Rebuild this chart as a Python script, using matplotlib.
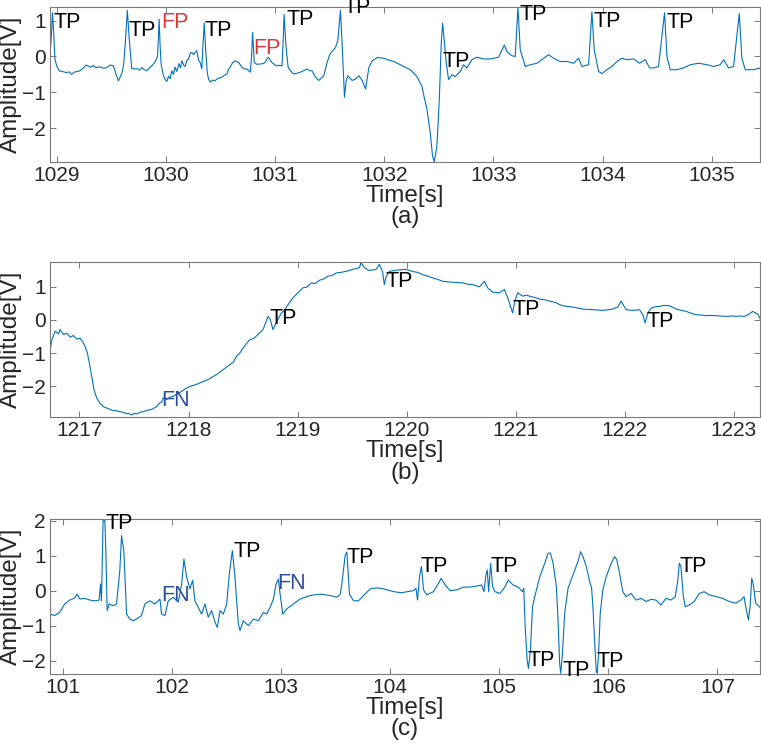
"""
ECG detection examples: three signal segments with TP / FP / FN marks
"""
import matplotlib
matplotlib.use('Agg')
import matplotlib.pyplot as plt

plt.rcParams['font.family'] = ['Liberation Sans', 'DejaVu Sans']

LINE_COLOR = '#0072BD'
TEXT_COLOR = '#262626'
SPINE_COLOR = '#7a7a7a'
MARK_COLORS = {'TP': 'black', 'FP': '#E8333A', 'FN': '#2D4F9E'}

# ---- panel (a) ----
time_a = [1028.939, 1028.950, 1028.963, 1028.975, 1028.985, 1029.000, 1029.024, 1029.050,
          1029.092, 1029.115, 1029.138, 1029.160, 1029.190, 1029.214, 1029.245, 1029.270,
          1029.291, 1029.315, 1029.336, 1029.360, 1029.398, 1029.430, 1029.459, 1029.490,
          1029.520, 1029.545, 1029.566, 1029.585, 1029.600, 1029.615, 1029.630, 1029.648,
          1029.665, 1029.688, 1029.710, 1029.734, 1029.760, 1029.780, 1029.800, 1029.826,
          1029.850, 1029.872, 1029.890, 1029.902, 1029.924, 1029.932, 1029.939, 1029.948,
          1029.957, 1029.975, 1029.990, 1030.009, 1030.025, 1030.040, 1030.055, 1030.070,
          1030.085, 1030.101, 1030.120, 1030.135, 1030.147, 1030.165, 1030.177, 1030.195,
          1030.208, 1030.225, 1030.239, 1030.255, 1030.269, 1030.284, 1030.300, 1030.315,
          1030.330, 1030.340, 1030.352, 1030.365, 1030.380, 1030.391, 1030.407, 1030.430,
          1030.450, 1030.468, 1030.490, 1030.514, 1030.540, 1030.560, 1030.575, 1030.590,
          1030.610, 1030.636, 1030.667, 1030.697, 1030.720, 1030.743, 1030.774, 1030.785,
          1030.795, 1030.803, 1030.810, 1030.835, 1030.865, 1030.890, 1030.911, 1030.925,
          1030.942, 1030.955, 1030.972, 1031.000, 1031.018, 1031.040, 1031.064, 1031.074,
          1031.083, 1031.100, 1031.120, 1031.141, 1031.171, 1031.200, 1031.232, 1031.260,
          1031.294, 1031.320, 1031.339, 1031.370, 1031.401, 1031.425, 1031.446, 1031.477,
          1031.500, 1031.523, 1031.554, 1031.575, 1031.599, 1031.615, 1031.636, 1031.650,
          1031.667, 1031.690, 1031.706, 1031.737, 1031.768, 1031.798, 1031.829, 1031.845,
          1031.859, 1031.890, 1031.936, 1031.997, 1032.040, 1032.085, 1032.146, 1032.238,
          1032.299, 1032.345, 1032.360, 1032.391, 1032.421, 1032.442, 1032.458, 1032.482,
          1032.504, 1032.522, 1032.534, 1032.549, 1032.568, 1032.589, 1032.619, 1032.650,
          1032.696, 1032.726, 1032.757, 1032.803, 1032.848, 1032.909, 1032.970, 1033.047,
          1033.099, 1033.123, 1033.169, 1033.199, 1033.224, 1033.245, 1033.291, 1033.337,
          1033.398, 1033.459, 1033.504, 1033.550, 1033.611, 1033.672, 1033.733, 1033.779,
          1033.810, 1033.871, 1033.901, 1033.922, 1033.962, 1033.993, 1034.038, 1034.084,
          1034.130, 1034.176, 1034.222, 1034.283, 1034.337, 1034.389, 1034.429, 1034.466,
          1034.511, 1034.566, 1034.588, 1034.618, 1034.679, 1034.740, 1034.801, 1034.878,
          1034.954, 1035.015, 1035.076, 1035.107, 1035.152, 1035.198, 1035.250, 1035.274,
          1035.305, 1035.381, 1035.442]
amp_a = [0.00, 0.45, 1.22, 0.60, -0.07, -0.25, -0.40, -0.42,
         -0.45, -0.43, -0.50, -0.44, -0.42, -0.40, -0.32, -0.24,
         -0.27, -0.30, -0.25, -0.31, -0.29, -0.33, -0.31, -0.24,
         -0.26, -0.50, -0.68, -0.56, -0.45, -0.20, 0.40, 1.29,
         0.50, -0.33, -0.35, -0.34, -0.38, -0.31, -0.36, -0.40,
         -0.32, -0.26, -0.20, -0.15, 0.00, 0.50, 1.04, 0.30,
         -0.20, -0.50, -0.62, -0.70, -0.55, -0.62, -0.40, -0.50,
         -0.30, -0.42, -0.20, -0.32, -0.12, -0.25, -0.28, -0.10,
         -0.08, 0.10, 0.11, 0.05, 0.12, 0.16, -0.10, -0.17,
         -0.35, 0.30, 0.94, 0.20, -0.45, -0.63, -0.72, -0.66,
         -0.68, -0.63, -0.60, -0.58, -0.52, -0.49, -0.35, -0.30,
         -0.18, -0.12, -0.17, -0.30, -0.35, -0.35, -0.44, 0.00,
         0.67, 0.20, -0.17, -0.22, -0.21, -0.20, -0.16, -0.07,
         -0.03, -0.10, -0.17, -0.24, -0.26, -0.25, -0.26, 0.40,
         1.18, 0.30, -0.30, -0.40, -0.49, -0.47, -0.44, -0.40,
         -0.35, -0.40, -0.40, -0.58, -0.67, -0.60, -0.54, -0.17,
         0.05, 0.15, 0.25, 0.45, 1.29, 0.30, -1.14, -0.70,
         -0.54, -0.62, -0.67, -0.63, -0.54, -0.67, -0.91, -0.60,
         -0.31, -0.12, -0.03, -0.05, -0.10, -0.14, -0.23, -0.37,
         -0.56, -0.83, -1.06, -1.48, -2.13, -2.78, -2.94, -2.50,
         -1.20, 0.37, 0.93, 0.46, -0.19, -0.65, -0.51, -0.56,
         -0.42, -0.23, -0.32, -0.09, -0.02, -0.07, -0.07, -0.02,
         0.32, 0.14, 0.02, 0.00, 1.38, 0.19, -0.28, -0.23,
         -0.19, -0.05, 0.05, -0.05, -0.14, -0.14, -0.19, -0.05,
         -0.28, -0.23, 1.25, 0.19, -0.42, -0.48, -0.37, -0.28,
         -0.14, -0.05, -0.09, -0.07, -0.19, -0.09, -0.32, -0.32,
         -0.28, 1.22, 0.00, -0.37, -0.37, -0.32, -0.23, -0.19,
         -0.23, -0.28, -0.23, -0.09, -0.32, -0.28, 1.20, -0.05,
         -0.37, -0.37, -0.32]
labels_a = ['TP', 'TP', 'FP', 'TP', 'FP', 'TP', 'TP', 'TP', 'TP', 'TP', 'TP']
label_t_a = [1028.969, 1029.657, 1029.954, 1030.352, 1030.798, 1031.104, 1031.624,
             1032.537, 1033.239, 1033.916, 1034.588]
label_v_a = [0.94, 0.74, 0.94, 0.73, 0.23, 1.02, 1.36, -0.14, 1.16, 0.99, 0.94]

# ---- panel (b) ----
time_b = [1216.732, 1216.747, 1216.777, 1216.808, 1216.823, 1216.854, 1216.884, 1216.915,
          1216.945, 1216.976, 1217.006, 1217.037, 1217.052, 1217.073, 1217.091, 1217.113,
          1217.134, 1217.159, 1217.189, 1217.220, 1217.250, 1217.280, 1217.310, 1217.341,
          1217.370, 1217.402, 1217.425, 1217.448, 1217.479, 1217.500, 1217.524, 1217.555,
          1217.585, 1217.620, 1217.662, 1217.707, 1217.730, 1217.753, 1217.768, 1217.799,
          1217.830, 1217.860, 1217.900, 1217.936, 1217.970, 1218.012, 1218.070, 1218.134,
          1218.180, 1218.226, 1218.270, 1218.317, 1218.378, 1218.410, 1218.439, 1218.470,
          1218.500, 1218.530, 1218.561, 1218.600, 1218.637, 1218.683, 1218.713, 1218.729,
          1218.750, 1218.774, 1218.805, 1218.851, 1218.880, 1218.912, 1218.957, 1219.003,
          1219.049, 1219.090, 1219.125, 1219.160, 1219.201, 1219.240, 1219.277, 1219.320,
          1219.354, 1219.400, 1219.445, 1219.506, 1219.567, 1219.582, 1219.613, 1219.650,
          1219.689, 1219.720, 1219.750, 1219.780, 1219.795, 1219.811, 1219.841, 1219.900,
          1219.950, 1219.994, 1220.060, 1220.100, 1220.147, 1220.190, 1220.239, 1220.290,
          1220.330, 1220.380, 1220.422, 1220.470, 1220.514, 1220.560, 1220.606, 1220.667,
          1220.713, 1220.743, 1220.789, 1220.850, 1220.896, 1220.927, 1220.957, 1220.972,
          1220.988, 1221.018, 1221.064, 1221.100, 1221.125, 1221.160, 1221.187, 1221.220,
          1221.248, 1221.280, 1221.309, 1221.340, 1221.370, 1221.400, 1221.431, 1221.480,
          1221.523, 1221.570, 1221.615, 1221.660, 1221.706, 1221.750, 1221.798, 1221.850,
          1221.890, 1221.940, 1221.966, 1222.012, 1222.073, 1222.135, 1222.165, 1222.187,
          1222.211, 1222.242, 1222.280, 1222.318, 1222.360, 1222.410, 1222.471, 1222.520,
          1222.563, 1222.610, 1222.654, 1222.700, 1222.746, 1222.790, 1222.838, 1222.880,
          1222.930, 1222.980, 1223.021, 1223.060, 1223.098, 1223.140, 1223.174, 1223.220,
          1223.245]
amp_b = [-0.90, -0.60, -0.34, -0.42, -0.29, -0.44, -0.40, -0.52,
         -0.47, -0.58, -0.55, -0.70, -0.80, -1.00, -1.30, -1.71,
         -2.11, -2.36, -2.52, -2.62, -2.66, -2.70, -2.74, -2.74,
         -2.77, -2.79, -2.83, -2.82, -2.87, -2.82, -2.84, -2.79,
         -2.77, -2.73, -2.70, -2.62, -2.52, -2.49, -2.35, -2.40,
         -2.33, -2.31, -2.22, -2.16, -2.08, -2.01, -1.95, -1.86,
         -1.80, -1.71, -1.62, -1.50, -1.35, -1.28, -1.10, -1.00,
         -0.85, -0.72, -0.60, -0.55, -0.44, -0.29, -0.04, 0.11,
         0.01, -0.29, -0.08, 0.21, 0.30, 0.46, 0.67, 0.82,
         0.97, 1.00, 1.12, 1.10, 1.20, 1.24, 1.32, 1.35,
         1.42, 1.44, 1.47, 1.53, 1.58, 1.73, 1.58, 1.50,
         1.51, 1.53, 1.68, 1.45, 1.07, 1.30, 1.47, 1.50,
         1.52, 1.53, 1.46, 1.44, 1.37, 1.33, 1.27, 1.22,
         1.17, 1.15, 1.14, 1.13, 1.12, 1.08, 1.07, 1.00,
         1.17, 0.97, 0.84, 0.82, 0.92, 0.67, 0.36, 0.21,
         0.52, 0.82, 0.72, 0.75, 0.72, 0.69, 0.67, 0.63,
         0.62, 0.60, 0.57, 0.55, 0.52, 0.47, 0.43, 0.41,
         0.39, 0.36, 0.33, 0.32, 0.31, 0.30, 0.29, 0.31,
         0.33, 0.40, 0.57, 0.31, 0.29, 0.31, 0.16, -0.09,
         0.21, 0.36, 0.40, 0.41, 0.44, 0.43, 0.33, 0.29,
         0.26, 0.20, 0.16, 0.15, 0.13, 0.14, 0.13, 0.12,
         0.11, 0.12, 0.11, 0.12, 0.11, 0.18, 0.26, 0.17,
         0.01]
labels_b = ['FN', 'TP', 'TP', 'TP', 'TP']
label_t_b = [1217.747, 1218.744, 1219.810, 1220.972, 1222.196]
label_v_b = [-2.44, 0.03, 1.17, 0.31, -0.04]

# ---- panel (c) ----
time_c = [100.878, 100.923, 100.969, 101.015, 101.061, 101.107, 101.129, 101.153,
          101.199, 101.245, 101.291, 101.331, 101.343, 101.352, 101.367, 101.383,
          101.392, 101.404, 101.422, 101.459, 101.490, 101.520, 101.536, 101.557,
          101.582, 101.612, 101.643, 101.673, 101.719, 101.750, 101.796, 101.842,
          101.888, 101.903, 101.934, 101.964, 102.010, 102.056, 102.087, 102.108,
          102.133, 102.163, 102.188, 102.209, 102.240, 102.270, 102.301, 102.331,
          102.362, 102.393, 102.414, 102.439, 102.469, 102.500, 102.524, 102.552,
          102.576, 102.607, 102.622, 102.653, 102.699, 102.745, 102.791, 102.837,
          102.867, 102.898, 102.928, 102.953, 102.974, 102.990, 103.014, 103.051,
          103.112, 103.173, 103.265, 103.357, 103.449, 103.510, 103.541, 103.556,
          103.586, 103.602, 103.626, 103.663, 103.709, 103.755, 103.816, 103.877,
          103.938, 104.030, 104.100, 104.213, 104.235, 104.250, 104.268, 104.286,
          104.305, 104.335, 104.396, 104.442, 104.466, 104.503, 104.548, 104.609,
          104.670, 104.731, 104.792, 104.838, 104.859, 104.877, 104.889, 104.902,
          104.920, 104.938, 104.959, 105.005, 105.051, 105.081, 105.127, 105.173,
          105.212, 105.224, 105.237, 105.255, 105.267, 105.285, 105.304, 105.325,
          105.371, 105.416, 105.447, 105.468, 105.493, 105.523, 105.538, 105.553,
          105.563, 105.578, 105.599, 105.630, 105.675, 105.721, 105.745, 105.767,
          105.797, 105.828, 105.846, 105.858, 105.873, 105.889, 105.898, 105.910,
          105.925, 105.949, 105.980, 106.026, 106.056, 106.077, 106.102, 106.132,
          106.163, 106.208, 106.254, 106.300, 106.345, 106.391, 106.437, 106.482,
          106.528, 106.574, 106.613, 106.635, 106.650, 106.665, 106.687, 106.705,
          106.741, 106.787, 106.833, 106.878, 106.924, 106.985, 107.046, 107.107,
          107.168, 107.214, 107.244, 107.259, 107.284, 107.299, 107.314, 107.326,
          107.351, 107.390]
amp_c = [-0.67, -0.71, -0.62, -0.38, -0.27, -0.21, -0.10, -0.24,
         -0.22, -0.27, -0.29, -0.27, 0.19, -0.29, 2.00, 2.00,
         1.14, -0.57, -0.38, -0.43, -0.38, 0.57, 1.57, 1.14,
         -0.67, -0.81, -0.86, -0.81, -0.71, -0.38, -0.29, -0.38,
         -0.24, -0.67, -0.71, -0.29, -0.19, -0.33, 0.19, 0.90,
         0.38, 0.05, 0.29, -0.29, -0.48, -0.67, -0.38, -0.76,
         -0.57, -0.90, -1.05, -0.57, -0.67, -0.38, 0.48, 1.14,
         0.38, -0.95, -1.14, -0.86, -1.00, -0.81, -0.86, -0.62,
         -0.67, -0.48, -0.24, 0.19, 0.33, -0.10, -0.67, -0.52,
         -0.38, -0.24, -0.14, -0.10, -0.14, -0.19, -0.10, 0.19,
         1.00, 1.10, -0.10, -0.29, -0.29, -0.14, 0.05, 0.08,
         0.05, -0.03, -0.06, 0.00, 0.07, -0.27, 0.40, 0.69,
         0.02, -0.12, -0.03, 0.21, 0.35, 0.16, 0.00, 0.02,
         0.10, 0.10, 0.13, 0.16, -0.03, 0.45, 0.59, -0.03,
         0.78, 0.11, -0.03, -0.08, 0.10, 0.30, 0.16, 0.10,
         -0.03, 0.07, -1.03, -1.98, -2.22, -1.70, -0.46, -0.17,
         0.40, 0.78, 1.07, 1.07, 0.78, 0.11, -0.84, -2.08,
         -2.36, -1.80, -0.65, 0.07, 0.45, 0.83, 1.11, 0.97,
         0.69, 0.26, 0.07, -0.46, -1.41, -2.31, -2.36, -1.80,
         -0.65, 0.02, 0.40, 0.78, 0.97, 0.88, 0.50, -0.03,
         -0.17, -0.08, -0.27, -0.22, -0.31, -0.25, -0.27, -0.41,
         -0.22, -0.27, -0.17, 0.26, 0.78, 0.69, -0.17, -0.46,
         -0.41, -0.31, -0.08, -0.03, -0.12, -0.17, -0.22, -0.31,
         -0.36, -0.27, -0.17, -0.46, -0.84, -0.46, 0.35, 0.21,
         -0.36, -0.48]
labels_c = ['TP', 'FN', 'TP', 'FN', 'TP', 'TP', 'TP', 'TP', 'TP', 'TP', 'TP']
label_t_c = [101.392, 101.897, 102.561, 102.968, 103.602, 104.280, 104.920,
             105.255, 105.578, 105.895, 106.650]
label_v_c = [1.92, -0.14, 1.12, 0.19, 0.95, 0.70, 0.70, -1.98, -2.27, -2.01, 0.69]

panels = [
    (time_a, amp_a, labels_a, label_t_a, label_v_a, '(a)',
     (1028.94, 1035.44), (-2.95, 1.39), range(1029, 1036), [-2, -1, 0, 1], 0.784),
    (time_b, amp_b, labels_b, label_t_b, label_v_b, '(b)',
     (1216.73, 1223.24), (-2.94, 1.75), range(1217, 1224), [-2, -1, 0, 1], 0.4436),
    (time_c, amp_c, labels_c, label_t_c, label_v_c, '(c)',
     (100.88, 107.39), (-2.38, 2.05), range(101, 108), [-2, -1, 0, 1, 2], 0.1013),
]

fig = plt.figure(figsize=(7.61, 7.5), dpi=100)

for t, v, marks, mt, mv, tag, xlim, ylim, xticks, yticks, bottom in panels:
    ax = fig.add_axes([0.0657, bottom, 0.933, 0.207])
    ax.plot(t, v, color=LINE_COLOR, linewidth=0.8)
    for name, x, y in zip(marks, mt, mv):
        ax.text(x, y, name, color=MARK_COLORS[name], fontsize=15.5,
                ha='left', va='center', clip_on=False)
    ax.set_xlim(*xlim)
    ax.set_ylim(*ylim)
    ax.set_xticks(list(xticks))
    ax.set_yticks(yticks)
    ax.tick_params(direction='in', top=True, right=True, length=4.5, width=0.7,
                   color=SPINE_COLOR, labelcolor=TEXT_COLOR, labelsize=15, pad=3)
    for spine in ax.spines.values():
        spine.set_color(SPINE_COLOR)
        spine.set_linewidth(0.8)
    ax.set_xlabel('Time[s]\n' + tag, fontsize=17.5, color=TEXT_COLOR,
                  linespacing=0.95, labelpad=0)
    ax.set_ylabel('Amplitude[V]', fontsize=17.5, color=TEXT_COLOR, labelpad=0)

plt.savefig('out.png', dpi=100)
plt.close()
